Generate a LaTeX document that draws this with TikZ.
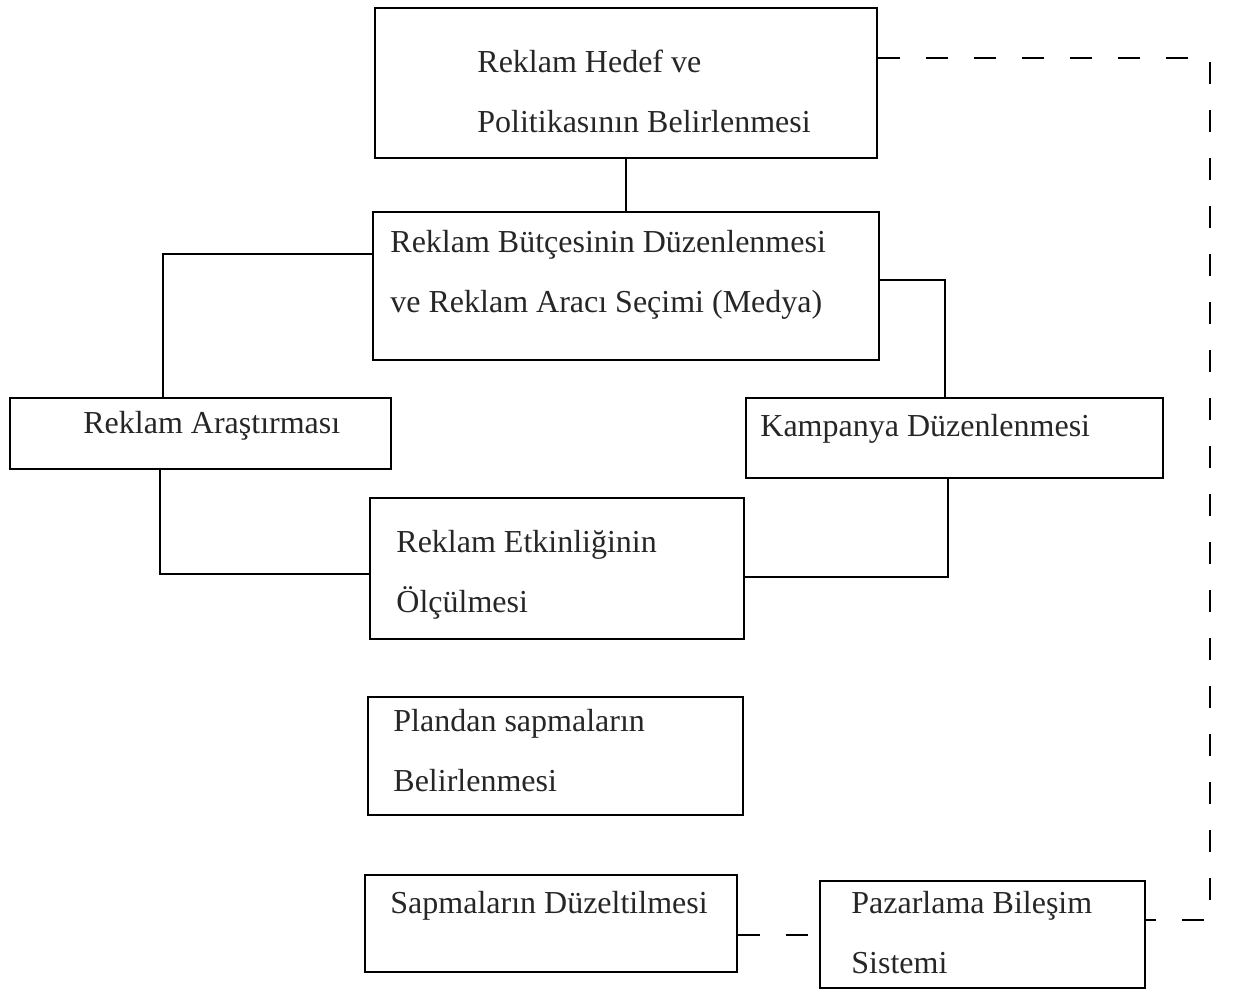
\documentclass[tikz,border=0pt]{standalone}
\usepackage{fontspec}
\setmainfont{Liberation Serif}
\usetikzlibrary{fit}
\begin{document}
\begin{tikzpicture}[x=0.5pt,y=-0.5pt,
  box/.style={draw, line width=0.9pt, inner sep=0pt},
  lbl/.style={anchor=base west, inner sep=0pt, align=left, font=\fontsize{16}{30}\selectfont, text=black!85},
  conn/.style={line width=0.9pt},
  dconn/.style={line width=0.8pt, dash pattern=on 11pt off 13pt}]
\useasboundingbox (0,0) rectangle (1240,994);
% boxes
\node[box, fit={(375,8) (877,158)}] (b1) {};
\node[box, fit={(373,212) (879,360)}] (b2) {};
\node[box, fit={(10,398) (391,469)}] (b3) {};
\node[box, fit={(746,398) (1163,478)}] (b4) {};
\node[box, fit={(370,498) (744,639)}] (b5) {};
\node[box, fit={(368,697) (743,815)}] (b6) {};
\node[box, fit={(365,875) (737,972)}] (b7) {};
\node[box, fit={(820,881) (1145,988)}] (b8) {};
% texts (anchor = baseline of the last line)
\node[lbl] (t1) at (477,133) {Reklam Hedef ve\\Politikasının Belirlenmesi};
\node[lbl] (t2) at (390,313) {Reklam Bütçesinin Düzenlenmesi\\ve Reklam Aracı Seçimi (Medya)};
\node[lbl] (t3) at (83,433) {Reklam Araştırması};
\node[lbl] (t4) at (760,436) {Kampanya Düzenlenmesi};
\node[lbl] (t5) at (396,612) {Reklam Etkinliğinin\\Ölçülmesi};
\node[lbl] (t6) at (393,791) {Plandan sapmaların\\Belirlenmesi};
\node[lbl] (t7) at (390,913) {Sapmaların Düzeltilmesi};
\node[lbl] (t8) at (851,973) {Pazarlama Bileşim\\Sistemi};
% helper coordinates
\coordinate (c1) at (163,254);
\coordinate (c2) at (945,280);
\coordinate (c3) at (160,574);
\coordinate (c4) at (948,577);
\coordinate (c5) at (1210,58);
\coordinate (c6) at (1210,920);
\coordinate (c7) at (0,935);
% connectors
\draw[conn] (b1.south) -- (b1.south |- b2.north);
\draw[conn] (b2.west |- c1) -| (c1 |- b3.north);
\draw[conn] (b2.east |- c2) -| (c2 |- b4.north);
\draw[conn] (c3 |- b3.south) |- (b5.west |- c3);
\draw[conn] (c4 |- b4.south) |- (b5.east |- c4);
\draw[dconn] (b1.east |- c5) -- (c5) -- (c6) -- (b8.east |- c6);
\draw[dconn] (b7.east |- c7) -- (b8.west |- c7);
\end{tikzpicture}
\end{document}
